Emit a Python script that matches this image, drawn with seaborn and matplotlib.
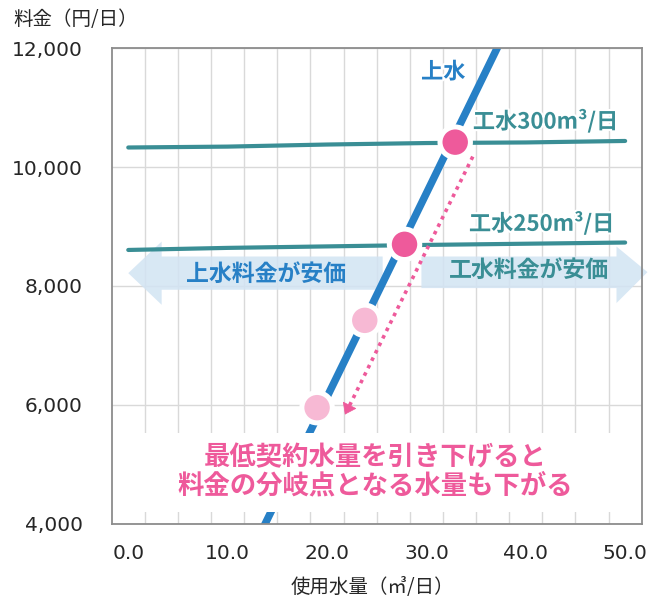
import matplotlib
matplotlib.use("Agg")
import matplotlib.pyplot as plt
from matplotlib.patches import Polygon, Rectangle
import matplotlib.patheffects as pe
import seaborn as sns
import pandas as pd

# --- data -------------------------------------------------------------
usage_points = [0, 10, 20, 30, 40, 50]                  # 使用水量 (㎥/日)
kousui_300 = [10330, 10345, 10380, 10405, 10415, 10440]  # 工水 300㎥/日 契約
kousui_250 = [8605, 8640, 8665, 8690, 8710, 8730]        # 工水 250㎥/日 契約
jousui_usage = [10, 40]                                  # 上水 (直線)
jousui_fee = [2700, 12990]
cross_usage = [32.9, 27.8]        # 上水と工水の分岐点
cross_fee = [10420, 8700]
lowered_usage = [19.0, 23.8]      # 最低契約水量を下げた場合の分岐点
lowered_fee = [5950, 7420]
x_ticks = [0, 10, 20, 30, 40, 50]
x_tick_labels = ["0.0", "10.0", "20.0", "30.0", "40.0", "50.0"]
y_ticks = [4000, 6000, 8000, 10000, 12000]
y_tick_labels = ["4,000", "6,000", "8,000", "10,000", "12,000"]

# --- style ------------------------------------------------------------
BLUE = "#2780C6"
TEAL = "#3A8E95"
PINK = "#EE5A9B"
LIGHT_PINK = "#F7B9D4"
ARROW_FILL = "#D2E4F3"
TEXT_DARK = "#262626"
GRID = "#D9D9D9"
FRAME = "#8C8C8C"
JP = "Noto Sans CJK JP"

sns.set_theme(style="white")
plt.rcParams["font.family"] = ["DejaVu Sans", JP]

W, H = 654, 599
fig = plt.figure(figsize=(W / 100, H / 100), dpi=100)
ax = fig.add_axes([111.7 / W, 1 - 523.5 / H, 530 / W, 475.2 / H])

ax.set_xlim(-5 / 3, 155 / 3)
ax.set_ylim(4000, 12000)

# category-style vertical grid between labels, horizontal grid on major ticks
ax.set_xticks([-5 / 3 + 10 / 3 * k for k in range(1, 16)], minor=True)
ax.set_xticks(x_ticks)
ax.set_xticklabels(x_tick_labels)
ax.set_yticks(y_ticks)
ax.set_yticklabels(y_tick_labels)
ax.grid(which="minor", axis="x", color=GRID, lw=1.0, zorder=0)
ax.grid(which="major", axis="y", color=GRID, lw=1.0, zorder=0)
ax.grid(which="major", axis="x", visible=False)
ax.set_axisbelow(True)
ax.tick_params(which="both", length=0)
ax.tick_params(axis="x", pad=15, labelsize=14.5, labelcolor=TEXT_DARK)
ax.tick_params(axis="y", pad=21, labelsize=14.5, labelcolor=TEXT_DARK)
for sp in ax.spines.values():
    sp.set_color(FRAME)
    sp.set_linewidth(1.3)
    sp.set_zorder(10)

# --- "cheaper" band arrows -------------------------------------------
left_arrow = [(0, 8215), (3.36, 8747), (3.36, 8495), (25.6, 8495),
              (25.6, 7935), (3.36, 7935), (3.36, 7682)]
right_arrow = [(29.5, 8495), (49.13, 8495), (49.13, 8663), (52.25, 8232),
               (49.13, 7711), (49.13, 7963), (29.5, 7963)]
for pts in (left_arrow, right_arrow):
    ax.add_patch(Polygon(pts, closed=True, facecolor=ARROW_FILL, alpha=0.85,
                         edgecolor="none", zorder=1, clip_on=False))

glow = [pe.withStroke(linewidth=3, foreground="white")]
ax.text(13.9, 8200, "上水料金が安価", color=BLUE, fontsize=16.5,
        fontweight="bold", family=JP, ha="center", va="center", zorder=2)
ax.text(40.3, 8260, "工水料金が安価", color=TEAL, fontsize=16.5,
        fontweight="bold", family=JP, ha="center", va="center", zorder=2)

# --- fee lines --------------------------------------------------------
lines = pd.DataFrame({"usage": usage_points, "k300": kousui_300, "k250": kousui_250})
sns.lineplot(data=lines, x="usage", y="k300", color=TEAL, lw=3.0, ax=ax, zorder=3)
sns.lineplot(data=lines, x="usage", y="k250", color=TEAL, lw=3.0, ax=ax, zorder=3)
jousui = pd.DataFrame({"usage": jousui_usage, "fee": jousui_fee})
sns.lineplot(data=jousui, x="usage", y="fee", color=BLUE, lw=5.4, ax=ax,
             zorder=4, solid_capstyle="butt")

# dotted guide arrow from the upper crossing down to the lowered crossing
x0, y0, x1, y1 = 34.67, 10177, 22.1, 5930
ax.plot([x0, x1], [y0, y1], color=PINK, lw=2.6, linestyle=(0, (1, 1.3)),
        dash_capstyle="butt", zorder=5)
ax.annotate("", xy=(21.8, 5834), xytext=(22.3, 6000),
            arrowprops=dict(arrowstyle="-|>,head_length=0.7,head_width=0.5",
                            mutation_scale=10, color=PINK, lw=0.5,
                            shrinkA=0, shrinkB=0), zorder=5)

# crossing markers
marks = pd.DataFrame({"usage": cross_usage + lowered_usage,
                      "fee": cross_fee + lowered_fee,
                      "kind": ["now", "now", "low", "low"]})
sns.scatterplot(data=marks, x="usage", y="fee", hue="kind",
                palette={"now": PINK, "low": LIGHT_PINK}, s=480,
                edgecolor="white", linewidth=3.6, legend=False, ax=ax, zorder=6)

# --- labels on the chart ---------------------------------------------
ax.text(31.7, 11600, "上水", color=BLUE, fontsize=16,
        fontweight="bold", family=JP, ha="center", va="center",
        path_effects=glow, zorder=7)
ax.text(42.0, 10770, "工水300m³/日", color=TEAL, fontsize=16,
        fontweight="bold", family=JP, ha="center", va="center",
        path_effects=glow, zorder=7)
ax.text(41.6, 9050, "工水250m³/日", color=TEAL, fontsize=16,
        fontweight="bold", family=JP, ha="center", va="center",
        path_effects=glow, zorder=7)

# white note box with the pink message
ax.add_patch(Rectangle((0, (523.5 - 512) / 475.2), 1, (512 - 433) / 475.2,
                       transform=ax.transAxes, facecolor="white",
                       edgecolor="none", zorder=8))
ax.text(0.497, 0.138, "最低契約水量を引き下げると", transform=ax.transAxes,
        color=PINK, fontsize=19, fontweight="bold", family=JP,
        ha="center", va="center", zorder=9)
ax.text(0.497, 0.080, "料金の分岐点となる水量も下がる", transform=ax.transAxes,
        color=PINK, fontsize=19, fontweight="bold", family=JP,
        ha="center", va="center", zorder=9)

# --- axis titles ------------------------------------------------------
ax.set_xlabel("")
ax.set_ylabel("")
fig.text(13 / W, 1 - 20 / H, "料金（円/日）", family=JP, fontsize=14,
         color=TEXT_DARK, ha="left", va="center")
fig.text(372 / W, 1 - 588 / H, "使用水量（㎥/日）", family=JP, fontsize=14,
         color=TEXT_DARK, ha="center", va="center")

fig.savefig("out.png", dpi=100)
